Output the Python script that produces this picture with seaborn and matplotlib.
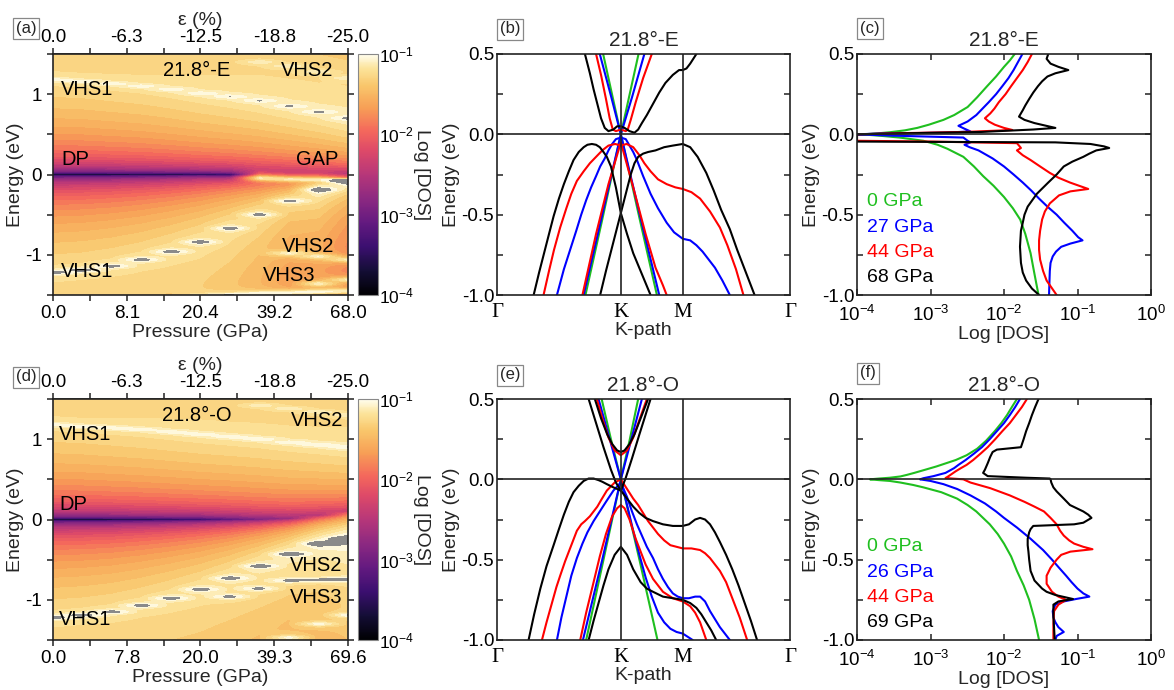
import numpy as np
import matplotlib
matplotlib.use("Agg")
import matplotlib.pyplot as plt
import seaborn as sns
from matplotlib.colors import Normalize, LinearSegmentedColormap
from matplotlib.cm import ScalarMappable
from matplotlib.ticker import MultipleLocator, FixedLocator, NullLocator

# ---------------------------------------------------------------- data
# compression columns of the DOS maps (|epsilon| in %)
compression = [0.0, 2.5, 5.0, 7.5, 10.0, 12.5, 15.0, 17.5, 20.0, 22.5, 25.0]
strain_ticks = [0.0, 6.25, 12.5, 18.75, 25.0]
strain_labels = ["0.0", "-6.3", "-12.5", "-18.8", "-25.0"]
pressure_labels_E = ["0.0", "8.1", "20.4", "39.2", "68.0"]
pressure_labels_O = ["0.0", "7.8", "20.0", "39.3", "69.6"]

nan = np.nan
# 21.8-E stacking: van Hove energies (eV), amplitudes and gap edges per column
vhs1_lo_E = [-1.22, -1.19, -1.14, -1.06, -0.96, -0.84, -0.67, -0.50, -0.33, -0.19, -0.08]
vhs1_hi_E = [1.18, 1.16, 1.13, 1.10, 1.06, 1.01, 0.97, 0.92, 0.85, 0.78, 0.70]
vhs2_lo_E = [nan, nan, nan, nan, nan, nan, nan, nan, -0.98, -1.02, -1.06]
vhs3_lo_E = [nan, nan, nan, nan, nan, nan, nan, nan, nan, -1.36, -1.31]
vhs4_lo_E = [nan, nan, nan, nan, nan, -1.52, -1.50, -1.48, -1.47, -1.46, -1.45]
vhs2_hi_E = [nan, nan, nan, nan, nan, nan, nan, 1.40, 1.35, 1.28, 1.20]
edge_pk_E = [nan, nan, nan, nan, nan, nan, nan, -0.045, -0.06, -0.065, nan]
amp_lo_E = [0.058, 0.058, 0.059, 0.060, 0.062, 0.064, 0.064, 0.062, 0.058, 0.090, 0.160]
amp_hi_E = [0.058, 0.058, 0.059, 0.060, 0.062, 0.064, 0.066, 0.068, 0.070, 0.072, 0.075]
gap_lo_E = [0, 0, 0, 0, 0, 0, -0.01, -0.03, -0.045, -0.05, -0.05]
gap_hi_E = [0, 0, 0, 0, 0, 0, 0.003, 0.005, 0.005, 0.005, 0.005]
floor_E = [1.1e-4, 1.1e-4, 1.1e-4, 1.1e-4, 1.1e-4, 1.2e-4, 3e-4, 3e-4, 3e-4, 3e-4, 3e-4]

# 21.8-O stacking
vhs1_lo_O = [-1.22, -1.19, -1.15, -1.07, -0.98, -0.87, -0.73, -0.58, -0.43, -0.30, -0.24]
vhs1_hi_O = [1.18, 1.16, 1.14, 1.12, 1.09, 1.06, 1.03, 1.00, 0.96, 0.93, 0.90]
vhs2_lo_O = [nan, nan, nan, nan, nan, nan, -0.96, -0.86, -0.76, -0.75, -0.745]
vhs3_lo_O = [nan, nan, nan, nan, nan, nan, nan, nan, -1.47, -1.30, -1.19]
vhs2_hi_O = [nan, nan, nan, nan, nan, nan, nan, 1.42, 1.38, 1.34, 1.30]
amp_lo_O = [0.058, 0.058, 0.059, 0.060, 0.062, 0.064, 0.066, 0.070, 0.075, 0.085, 0.100]
amp_hi_O = [0.058, 0.058, 0.059, 0.060, 0.061, 0.062, 0.062, 0.062, 0.062, 0.062, 0.062]
dp_O = [0, 0, 0, 0, 0, 0, 0, 0, 0.01, 0.05, 0.10]
floor_O = [1.1e-4, 1.1e-4, 1.2e-4, 1.4e-4, 1.8e-4, 2.5e-4, 5e-4, 9e-4, 1.5e-3, 2.5e-3, 4e-3]

# band structures along Gamma-K-M-Gamma (k in units of |GK|)
K_PATH = [0.0, 1.0, 1.5, 2.366]
BANDS_E_0 = [
    ([0.70, 0.85, 1.0, 1.15, 1.30], [-1.05, -0.53, 0.0, -0.52, -1.03]),
    ([0.84, 0.92, 1.0, 1.08, 1.16], [0.56, 0.28, 0.0, 0.28, 0.56]),
]
BANDS_E_27 = [
    ([0.83, 0.92, 1.0, 1.09, 1.19], [0.50, 0.24, 0.0, 0.23, 0.50]),
    ([0.70, 0.85, 1.0, 1.15, 1.31], [-1.0, -0.5, 0.0, -0.49, -1.0]),
    ([0.484, 0.54, 0.59, 0.64, 0.68, 0.72, 0.76, 0.80, 0.833, 0.87, 0.90, 0.93, 0.96, 1.0, 1.04,
      1.07, 1.10, 1.13, 1.18, 1.24, 1.30, 1.37, 1.43, 1.5, 1.56, 1.61, 1.66, 1.71, 1.76, 1.82, 1.88],
     [-1.0, -0.84, -0.72, -0.60, -0.50, -0.41, -0.33, -0.26, -0.20, -0.15, -0.10, -0.06, -0.03, -0.02,
      -0.03, -0.07, -0.11, -0.16, -0.26, -0.37, -0.46, -0.55, -0.61, -0.65, -0.66, -0.69, -0.73, -0.78,
      -0.83, -0.91, -1.0]),
]
BANDS_E_44 = [
    ([0.80, 0.84, 0.88, 0.91, 0.935, 0.96, 1.0, 1.04, 1.056, 1.08, 1.12, 1.18, 1.25],
     [0.50, 0.37, 0.22, 0.10, 0.03, 0.02, 0.03, 0.02, 0.03, 0.09, 0.20, 0.35, 0.50]),
    ([0.376, 0.42, 0.46, 0.51, 0.56, 0.60, 0.645, 0.70, 0.75, 0.80, 0.85, 0.90, 0.954, 1.0, 1.046,
      1.10, 1.15, 1.19, 1.24, 1.30, 1.37, 1.44, 1.5, 1.57, 1.64, 1.72, 1.80, 1.86, 1.93, 1.99],
     [-1.0, -0.85, -0.72, -0.58, -0.46, -0.37, -0.29, -0.23, -0.18, -0.14, -0.10, -0.07, -0.06, -0.07,
      -0.06, -0.08, -0.13, -0.18, -0.23, -0.28, -0.31, -0.33, -0.34, -0.36, -0.40, -0.48, -0.58, -0.69,
      -0.84, -1.0]),
    ([0.69, 0.80, 0.90, 1.0, 1.10, 1.20, 1.28, 1.34, 1.37],
     [-1.0, -0.62, -0.31, -0.05, -0.33, -0.62, -0.83, -0.94, -1.0]),
]
BANDS_E_68 = [
    ([0.71, 0.75, 0.78, 0.81, 0.84, 0.87, 0.90, 0.94, 0.97, 1.0, 1.03, 1.07, 1.11, 1.14, 1.17, 1.21,
      1.26, 1.31, 1.36, 1.42, 1.47, 1.5, 1.53, 1.56, 1.61],
     [0.50, 0.38, 0.28, 0.19, 0.10, 0.04, 0.02, 0.03, 0.05, 0.05, 0.04, 0.02, 0.01, 0.03, 0.07, 0.12,
      0.19, 0.26, 0.32, 0.37, 0.40, 0.40, 0.41, 0.44, 0.50]),
    ([0.296, 0.34, 0.38, 0.42, 0.457, 0.50, 0.54, 0.58, 0.618, 0.66, 0.70, 0.73, 0.766, 0.80, 0.83,
      0.86, 0.887, 0.92, 0.96, 1.0, 1.05, 1.10, 1.17, 1.24],
     [-1.0, -0.86, -0.74, -0.62, -0.51, -0.40, -0.31, -0.23, -0.16, -0.11, -0.08, -0.065, -0.06,
      -0.065, -0.08, -0.11, -0.14, -0.20, -0.33, -0.49, -0.62, -0.74, -0.87, -1.0]),
    ([0.833, 0.88, 0.92, 0.96, 1.0, 1.04, 1.08, 1.11, 1.14, 1.18, 1.22, 1.28, 1.35, 1.42, 1.5, 1.56,
      1.62, 1.69, 1.75, 1.81, 1.88, 1.94, 2.0, 2.08],
     [-1.0, -0.85, -0.73, -0.61, -0.49, -0.37, -0.25, -0.18, -0.14, -0.12, -0.11, -0.10, -0.08, -0.07,
      -0.06, -0.08, -0.14, -0.24, -0.35, -0.47, -0.59, -0.72, -0.84, -1.0]),
]
BANDS_O_0 = [
    ([0.72, 0.86, 1.0, 1.15, 1.296], [-1.0, -0.5, 0.0, -0.5, -1.0]),
    ([0.845, 0.92, 1.0, 1.07, 1.14], [0.5, 0.25, 0.0, 0.24, 0.5]),
]
BANDS_O_26 = [
    ([0.82, 0.91, 1.0, 1.085, 1.17], [0.5, 0.25, 0.0, 0.25, 0.5]),
    ([0.694, 0.85, 1.0], [-1.0, -0.5, 0.0]),
    ([1.0, 1.05, 1.10, 1.15, 1.2, 1.25, 1.30, 1.35, 1.40, 1.45, 1.5, 1.54, 1.58],
     [0.0, -0.16, -0.32, -0.47, -0.61, -0.73, -0.83, -0.89, -0.93, -0.95, -0.96, -0.98, -1.0]),
    ([0.484, 0.52, 0.56, 0.60, 0.645, 0.69, 0.73, 0.78, 0.83, 0.88, 0.94, 1.0, 1.05, 1.09, 1.13, 1.17,
      1.21, 1.26, 1.30, 1.34, 1.38, 1.42, 1.46, 1.5, 1.55, 1.60, 1.64, 1.68, 1.72, 1.76, 1.80, 1.84, 1.88],
     [-1.0, -0.86, -0.73, -0.60, -0.49, -0.40, -0.33, -0.26, -0.20, -0.14, -0.07, -0.02, -0.11, -0.20,
      -0.28, -0.35, -0.42, -0.49, -0.56, -0.62, -0.67, -0.71, -0.73, -0.74, -0.74, -0.73, -0.73, -0.76,
      -0.82, -0.87, -0.92, -0.96, -1.0]),
]
BANDS_O_44 = [
    ([0.806, 0.85, 0.90, 0.95, 1.0, 1.05, 1.10, 1.15, 1.21], [0.5, 0.38, 0.26, 0.18, 0.15, 0.18, 0.26, 0.37, 0.5]),
    ([0.363, 0.40, 0.44, 0.48, 0.51, 0.55, 0.60, 0.645, 0.68, 0.71, 0.75, 0.78, 0.81, 0.84, 0.887, 0.95,
      1.0, 1.05, 1.10, 1.14, 1.18, 1.22, 1.26, 1.30, 1.35, 1.40, 1.45, 1.5, 1.57, 1.64, 1.68, 1.72, 1.76,
      1.80, 1.85, 1.9, 1.96, 2.02],
     [-1.0, -0.89, -0.78, -0.67, -0.60, -0.51, -0.41, -0.32, -0.28, -0.26, -0.23, -0.20, -0.17, -0.13,
      -0.07, -0.02, 0.0, -0.06, -0.12, -0.16, -0.21, -0.26, -0.30, -0.34, -0.38, -0.41, -0.42, -0.43,
      -0.43, -0.44, -0.46, -0.49, -0.53, -0.57, -0.64, -0.74, -0.86, -1.0]),
    ([0.672, 0.72, 0.78, 0.83, 0.88, 0.93, 0.97, 1.0, 1.03, 1.07, 1.12, 1.16, 1.20, 1.26, 1.34, 1.42,
      1.5, 1.56, 1.60, 1.64, 1.69],
     [-1.0, -0.83, -0.64, -0.48, -0.34, -0.23, -0.18, -0.16, -0.18, -0.25, -0.37, -0.45, -0.53, -0.62,
      -0.70, -0.74, -0.76, -0.79, -0.83, -0.89, -1.0]),
]
BANDS_O_69 = [
    ([0.79, 0.84, 0.89, 0.93, 0.97, 1.0, 1.03, 1.07, 1.11, 1.16, 1.22],
     [0.5, 0.38, 0.28, 0.22, 0.18, 0.17, 0.18, 0.22, 0.28, 0.38, 0.5]),
    ([0.74, 0.80, 0.86, 0.92, 0.96, 1.0, 1.04, 1.09, 1.15, 1.24],
     [0.5, 0.35, 0.20, 0.06, -0.02, -0.07, 0.01, 0.13, 0.28, 0.5]),
    ([0.255, 0.30, 0.35, 0.40, 0.457, 0.50, 0.54, 0.58, 0.618, 0.66, 0.70, 0.74, 0.78, 0.82, 0.85,
      0.887, 0.94, 1.0, 1.05, 1.1, 1.15, 1.2, 1.26, 1.34, 1.42, 1.5, 1.55, 1.60, 1.64, 1.68, 1.72, 1.76,
      1.80, 1.85, 1.90, 1.95, 2.0, 2.05, 2.1],
     [-1.0, -0.84, -0.68, -0.54, -0.41, -0.31, -0.22, -0.14, -0.08, -0.04, -0.01, 0.005, 0.005, -0.005,
      -0.015, -0.03, -0.05, -0.07, -0.12, -0.17, -0.21, -0.24, -0.26, -0.28, -0.29, -0.29, -0.28, -0.25,
      -0.24, -0.25, -0.28, -0.33, -0.39, -0.47, -0.56, -0.66, -0.77, -0.88, -1.0]),
    ([0.74, 0.78, 0.82, 0.86, 0.90, 0.95, 1.0, 1.05, 1.10, 1.16, 1.21, 1.26, 1.34, 1.42, 1.5, 1.56,
      1.61, 1.65, 1.69, 1.73, 1.77],
     [-1.0, -0.88, -0.77, -0.66, -0.56, -0.47, -0.42, -0.47, -0.56, -0.64, -0.68, -0.70, -0.73, -0.74,
      -0.75, -0.77, -0.80, -0.84, -0.89, -0.94, -1.0]),
]

# density of states curves (energy in eV, DOS in states/eV/atom)
DOS_E_0_E = [0.50, 0.46, 0.42, 0.36, 0.30, 0.23, 0.17, 0.12, 0.09, 0.06, 0.04, 0.025, 0.013, 0.006,
             0.002, 0.0, -0.004, -0.01, -0.02, -0.04, -0.065, -0.09, -0.14, -0.20, -0.26, -0.32,
             -0.39, -0.46, -0.53, -0.62, -0.74, -0.87, -1.0]
DOS_E_0 = [1.4e-2, 1.2e-2, 1.0e-2, 7.8e-3, 5.9e-3, 4.3e-3, 3.2e-3, 2.1e-3, 1.5e-3, 9.5e-4, 6.6e-4,
           4.5e-4, 2.8e-4, 1.9e-4, 1.4e-4, 1.0e-4, 1.5e-4, 2.2e-4, 3.8e-4, 8.0e-4, 1.25e-3, 1.7e-3,
           2.8e-3, 3.9e-3, 5.2e-3, 7.2e-3, 1.0e-2, 1.32e-2, 1.66e-2, 1.95e-2, 2.3e-2, 2.6e-2,
           2.95e-2]
DOS_E_27_E = [0.50, 0.45, 0.40, 0.35, 0.30, 0.25, 0.20, 0.16, 0.12, 0.08, 0.053, 0.035, 0.018, 0.01,
              0.005, 0.0, -0.008, -0.02, -0.04, -0.05, -0.065, -0.08, -0.10, -0.15, -0.20, -0.25,
              -0.30, -0.35, -0.40, -0.45, -0.50, -0.55, -0.60, -0.64, -0.66, -0.68, -0.70, -0.73,
              -0.76, -0.80, -0.85, -0.92, -1.0]
DOS_E_27 = [1.78e-2, 1.55e-2, 1.35e-2, 1.15e-2, 9.5e-3, 7.8e-3, 6.2e-3, 5.1e-3, 4.2e-3, 3.2e-3,
            2.4e-3, 2.9e-3, 3.5e-3, 1.5e-3, 2e-4, 1e-4, 3e-4, 2.8e-3, 3.2e-3, 3.5e-3, 2.9e-3,
            3.4e-3, 4.5e-3, 7.0e-3, 1.0e-2, 1.35e-2, 1.8e-2, 2.35e-2, 3.0e-2, 3.9e-2, 5.2e-2,
            6.6e-2, 8.5e-2, 1.02e-1, 1.17e-1, 8.0e-2, 6.0e-2, 5.1e-2, 4.6e-2, 4.3e-2, 4.2e-2,
            4.15e-2, 4.1e-2]
DOS_E_44_E = [0.50, 0.45, 0.40, 0.35, 0.30, 0.25, 0.20, 0.16, 0.13, 0.10, 0.08, 0.06, 0.04, 0.027,
              0.015, 0.006, 0.0, -0.04, -0.045, -0.055, -0.07, -0.085, -0.10, -0.13, -0.16, -0.20,
              -0.24, -0.27, -0.30, -0.32, -0.34, -0.355, -0.38, -0.43, -0.48, -0.53, -0.60, -0.66,
              -0.72, -0.78, -0.85, -0.91, -1.0]
DOS_E_44 = [2.4e-2, 2.1e-2, 1.8e-2, 1.5e-2, 1.25e-2, 1.05e-2, 8.5e-3, 7.4e-3, 6.5e-3, 5.5e-3,
            6.2e-3, 7.5e-3, 1.0e-2, 1.3e-2, 3e-3, 3e-4, 1e-4, 1e-4, 1e-3, 1.5e-2, 1.6e-2, 1.7e-2,
            1.5e-2, 1.8e-2, 2.3e-2, 3.1e-2, 4.2e-2, 5.5e-2, 7.9e-2, 1.05e-1, 1.4e-1, 8.0e-2,
            5.6e-2, 4.2e-2, 3.6e-2, 3.3e-2, 3.1e-2, 3.0e-2, 3.0e-2, 3.1e-2, 3.4e-2, 3.8e-2,
            5.2e-2]
DOS_E_68_E = [0.50, 0.47, 0.44, 0.42, 0.40, 0.38, 0.36, 0.33, 0.30, 0.26, 0.22, 0.18, 0.15, 0.11,
              0.09, 0.07, 0.055, 0.04, 0.03, 0.015, 0.005, 0.0, -0.045, -0.05, -0.06, -0.075, -0.085,
              -0.10, -0.12, -0.14, -0.17, -0.20, -0.25, -0.30, -0.37, -0.45, -0.50, -0.55, -0.60,
              -0.70, -0.80, -0.86, -0.91, -0.96, -1.0]
DOS_E_68 = [4.0e-2, 3.8e-2, 4.3e-2, 5.5e-2, 7.5e-2, 5.0e-2, 3.9e-2, 3.3e-2, 2.9e-2, 2.5e-2, 2.2e-2,
            1.95e-2, 1.8e-2, 1.6e-2, 1.9e-2, 2.6e-2, 3.6e-2, 5.0e-2, 2.5e-2, 5e-3, 3e-4, 1e-4, 1e-4,
            5e-2, 1.5e-1, 2.3e-1, 2.7e-1, 1.8e-1, 1.45e-1, 1.2e-1, 8.5e-2, 6.5e-2, 5.2e-2, 4.0e-2,
            2.8e-2, 2.1e-2, 1.9e-2, 1.8e-2, 1.7e-2, 1.65e-2, 1.7e-2, 1.8e-2, 2.0e-2, 2.4e-2,
            3.0e-2]

DOS_O_0_E = [0.5, 0.45, 0.4, 0.35, 0.3, 0.24, 0.19, 0.15, 0.12, 0.08, 0.06, 0.04, 0.028, 0.018,
             0.01, 0.005, 0.0, -0.005, -0.01, -0.02, -0.035, -0.05, -0.08, -0.12, -0.16, -0.2,
             -0.28, -0.34, -0.4, -0.48, -0.57, -0.66, -0.75, -0.87, -1.0]
DOS_O_0 = [1.5e-2, 1.28e-2, 1.1e-2, 9.2e-3, 7.5e-3, 5.7e-3, 4.3e-3, 3.1e-3, 2.2e-3, 1.2e-3, 8.5e-4,
           6e-4, 4.8e-4, 3.9e-4, 2.8e-4, 2e-4, 1.5e-4, 2e-4, 2.8e-4, 3.9e-4, 5.8e-4, 8e-4, 1.4e-3,
           2.3e-3, 3.2e-3, 4.2e-3, 6.4e-3, 8.2e-3, 1.0e-2, 1.25e-2, 1.5e-2, 1.85e-2, 2.2e-2,
           2.6e-2, 3.0e-2]
DOS_O_26_E = [0.5, 0.45, 0.4, 0.35, 0.3, 0.25, 0.2, 0.16, 0.12, 0.09, 0.07, 0.04, 0.02, 0.007, 0.0,
              -0.01, -0.03, -0.06, -0.10, -0.15, -0.20, -0.24, -0.30, -0.37, -0.44, -0.50, -0.55,
              -0.60, -0.64, -0.68, -0.71, -0.73, -0.745, -0.76, -0.78, -0.82, -0.86, -0.89, -0.92,
              -0.95, -0.975, -1.0]
DOS_O_26 = [1.65e-2, 1.42e-2, 1.2e-2, 1.0e-2, 8e-3, 6.4e-3, 5e-3, 3.9e-3, 3.0e-3, 2.4e-3, 2.1e-3,
            1.6e-3, 1.1e-3, 8e-4, 7.2e-4, 1e-3, 1.5e-3, 2.3e-3, 3.5e-3, 5.5e-3, 7.8e-3, 1.0e-2,
            1.5e-2, 2.3e-2, 3.4e-2, 4.5e-2, 5.6e-2, 7e-2, 8.3e-2, 1.0e-1, 1.2e-1, 1.45e-1, 9.5e-2,
            6.5e-2, 5e-2, 4.6e-2, 4.7e-2, 5e-2, 5.5e-2, 6.5e-2, 5.2e-2, 5.0e-2]
DOS_O_44_E = [0.5, 0.45, 0.4, 0.35, 0.3, 0.25, 0.2, 0.16, 0.12, 0.09, 0.07, 0.05, 0.03, 0.015,
              0.008, 0.0, -0.02, -0.055, -0.10, -0.14, -0.17, -0.20, -0.24, -0.28, -0.32, -0.35,
              -0.38, -0.40, -0.42, -0.435, -0.45, -0.47, -0.50, -0.55, -0.60, -0.65, -0.70, -0.73,
              -0.75, -0.78, -0.82, -0.90, -1.0]
DOS_O_44 = [2.05e-2, 1.75e-2, 1.45e-2, 1.2e-2, 9.5e-3, 7.6e-3, 6e-3, 4.8e-3, 3.8e-3, 3.1e-3, 2.6e-3,
            2.2e-3, 1.9e-3, 1.7e-3, 1.6e-3, 2.8e-3, 3.5e-3, 6.5e-3, 1.2e-2, 1.9e-2, 2.6e-2, 3.5e-2,
            4.3e-2, 5.2e-2, 5.8e-2, 6.5e-2, 7.7e-2, 9e-2, 1.2e-1, 1.6e-1, 8e-2, 6e-2, 5.2e-2, 4.3e-2,
            3.8e-2, 3.8e-2, 4.5e-2, 5.5e-2, 7e-2, 5.5e-2, 4.8e-2, 4.7e-2, 4.7e-2]
DOS_O_69_E = [0.5, 0.45, 0.4, 0.35, 0.3, 0.25, 0.2, 0.185, 0.17, 0.14, 0.1, 0.06, 0.04, 0.02, 0.01,
              0.005, 0.0, -0.02, -0.05, -0.075, -0.12, -0.16, -0.20, -0.22, -0.24, -0.27, -0.28,
              -0.29, -0.31, -0.33, -0.37, -0.41, -0.45, -0.50, -0.57, -0.63, -0.68, -0.70, -0.72,
              -0.745, -0.76, -0.78, -0.85, -1.0]
DOS_O_69 = [2.95e-2, 2.65e-2, 2.4e-2, 2.2e-2, 2.0e-2, 1.85e-2, 1.7e-2, 8e-3, 7e-3, 6.5e-3, 6e-3,
            5.5e-3, 5.2e-3, 6e-3, 2e-2, 4.2e-2, 4.3e-2, 4.4e-2, 4.7e-2, 5.2e-2, 6.5e-2, 7.9e-2,
            1.2e-1, 1.4e-1, 1.55e-1, 1.2e-1, 9e-2, 2.5e-2, 2.3e-2, 2.2e-2, 2.1e-2, 2.1e-2, 2.15e-2,
            2.2e-2, 2.3e-2, 2.6e-2, 3.3e-2, 3.8e-2, 5e-2, 8.7e-2, 5.5e-2, 4.7e-2, 4.7e-2, 4.9e-2]

PRESSURES_E = ["0 GPa", "27 GPa", "44 GPa", "68 GPa"]
PRESSURES_O = ["0 GPa", "26 GPa", "44 GPa", "69 GPa"]
COLORS = ["#1fbf1f", "#0000ff", "#ff0000", "#000000"]

# ---------------------------------------------------------------- style
sns.set_theme(style="ticks")
plt.rcParams.update({
    "font.family": ["Liberation Sans", "DejaVu Sans"],
    "mathtext.fontset": "custom",
    "mathtext.rm": "Liberation Sans",
    "mathtext.it": "Liberation Sans:italic",
    "mathtext.bf": "Liberation Sans:bold",
    "axes.unicode_minus": False,
    "axes.linewidth": 1.2,
    "axes.edgecolor": "#222222",
    "xtick.color": "#222222",
    "ytick.color": "#222222",
    "xtick.labelcolor": "black",
    "ytick.labelcolor": "black",
    "xtick.labelsize": 13.5,
    "ytick.labelsize": 13.5,
    "axes.labelsize": 14,
})

E_GRID = np.linspace(-1.5, 1.5, 1201)
PEAK_W = 0.02


def dos_column(e_lo, e_hi, a_lo, a_hi, g_lo, g_hi, floor, peaks):
    """Model DOS profile of one compression column."""
    E = E_GRID
    d = np.full(E.shape, floor)
    lo = E < g_lo
    x = (g_lo - E[lo]) / (g_lo - e_lo)
    d[lo] += a_lo * np.where(x < 1, x ** 1.2, x ** -0.7)
    hi = E > g_hi
    x = (E[hi] - g_hi) / (e_hi - g_hi)
    d[hi] += a_hi * np.where(x < 1, x ** 1.2, x ** -0.7)
    for ep, hp in peaks:
        if np.isfinite(ep):
            d += hp * PEAK_W ** 2 / ((E - ep) ** 2 + PEAK_W ** 2)
    return d


def field_E():
    cols = []
    for j in range(len(compression)):
        pk = [(vhs1_lo_E[j], 0.06), (vhs1_hi_E[j], 0.035), (vhs2_lo_E[j], 0.06),
              (vhs3_lo_E[j], 0.06), (vhs4_lo_E[j], 0.07), (vhs2_hi_E[j], 0.03),
              (edge_pk_E[j], 0.07)]
        cols.append(dos_column(vhs1_lo_E[j], vhs1_hi_E[j], amp_lo_E[j], amp_hi_E[j],
                               gap_lo_E[j], gap_hi_E[j], floor_E[j], pk))
    return np.log10(np.column_stack(cols))


def field_O():
    cols = []
    for j in range(len(compression)):
        pk = [(vhs1_lo_O[j], 0.06), (vhs1_hi_O[j], 0.035), (vhs2_lo_O[j], 0.06),
              (vhs3_lo_O[j], 0.06), (vhs2_hi_O[j], 0.03)]
        cols.append(dos_column(vhs1_lo_O[j], vhs1_hi_O[j], amp_lo_O[j], amp_hi_O[j],
                               dp_O[j], dp_O[j], floor_O[j], pk))
    return np.log10(np.column_stack(cols))


# magma below 10^-2, warmer yellow towards 10^-1
_mg = plt.get_cmap("magma")
_stops = [(p, _mg(p)[:3]) for p in (0.0, 0.1, 0.2, 0.3, 0.4, 0.5, 0.6, 0.68)]
_stops += [(0.78, (0.969, 0.627, 0.337)), (0.87, (0.976, 0.776, 0.420)),
           (0.94, (0.988, 0.890, 0.600)), (1.0, (1.0, 0.992, 0.930))]
cmap = LinearSegmentedColormap.from_list("dos", _stops, N=256)
cmap.set_over("#8a8a8a")
cmap.set_under("#8a8a8a")
LEVELS = np.linspace(-4, -1, 37)

fig = plt.figure(figsize=(11.74, 6.90), dpi=100)
W_FIG, H_FIG = 1174, 690


def px_axes(x0, y0, x1, y1):
    return fig.add_axes([x0 / W_FIG, 1 - y1 / H_FIG, (x1 - x0) / W_FIG, (y1 - y0) / H_FIG])


def panel_tag(x, y, s):
    fig.text(x / W_FIG, 1 - y / H_FIG, s, ha="center", va="center", fontsize=12,
             bbox=dict(boxstyle="square,pad=0.18", fc="white", ec="#888888", lw=0.9))


def draw_map(ax, cax, Z, p_labels, texts):
    ax.contourf(compression, E_GRID, Z, levels=LEVELS, cmap=cmap, extend="both")
    ax.set_xlim(0, 25)
    ax.set_ylim(-1.5, 1.5)
    ax.set_xticks(strain_ticks)
    ax.set_xticklabels(p_labels)
    ax.xaxis.set_minor_locator(FixedLocator([3.125, 9.375, 15.625, 21.875]))
    ax.set_yticks([-1, 0, 1])
    ax.set_yticklabels(["-1", "0", "1"])
    ax.yaxis.set_minor_locator(MultipleLocator(0.5))
    ax.tick_params(which="both", direction="out", top=False, right=True, length=4.5, width=1.1)
    ax.tick_params(axis="x", pad=3)
    ax.set_xlabel("Pressure (GPa)", labelpad=1)
    ax.set_ylabel("Energy (eV)", labelpad=1)
    top = ax.secondary_xaxis("top")
    top.set_xticks(strain_ticks)
    top.set_xticklabels(strain_labels)
    top.xaxis.set_minor_locator(FixedLocator([3.125, 9.375, 15.625, 21.875]))
    top.tick_params(which="both", direction="out", length=4.5, width=1.1, pad=1)
    top.set_xlabel("ε (%)", labelpad=3)
    for (x, y, s, ha) in texts:
        ax.text(x, y, s, ha=ha, va="center", fontsize=14.5, color="black")
    sm = ScalarMappable(norm=Normalize(-4, -1), cmap=cmap)
    cb = fig.colorbar(sm, cax=cax, ticks=[-4, -3, -2, -1])
    cb.ax.set_yticklabels(["10$^{-4}$", "10$^{-3}$", "10$^{-2}$", "10$^{-1}$"])
    cb.ax.tick_params(length=0, pad=1, labelsize=12.5)
    cb.outline.set_linewidth(0.8)
    cb.outline.set_edgecolor("#888888")
    cb.ax.set_ylabel("Log [DOS]", rotation=270, fontsize=14, labelpad=11)


def draw_bands(ax, band_sets, title):
    for bands, col in zip(band_sets, COLORS):
        for k, e in bands:
            sns.lineplot(x=k, y=e, sort=False, estimator=None, color=col, lw=1.5, ax=ax,
                         legend=False)
    for kx in K_PATH[1:3]:
        ax.axvline(kx, color="#222222", lw=1.2)
    ax.axhline(0, color="#222222", lw=1.2)
    ax.set_xlim(K_PATH[0], K_PATH[-1])
    ax.set_ylim(-1.0, 0.5)
    ax.set_xticks(K_PATH)
    ax.set_xticklabels(["Γ", "K", "M", "Γ"], fontfamily="Liberation Serif", fontsize=15)
    ax.set_yticks([-1.0, -0.5, 0.0, 0.5])
    ax.set_yticklabels(["-1.0", "-0.5", "0.0", "0.5"])
    ax.yaxis.set_minor_locator(MultipleLocator(0.25))
    ax.tick_params(axis="y", which="both", direction="in", left=True, right=True, length=4.5,
                   width=1.1, pad=2)
    ax.tick_params(axis="x", length=0, pad=6)
    ax.set_xlabel("K-path", labelpad=0)
    ax.set_ylabel("Energy (eV)", labelpad=1)
    ax.set_title(title, fontsize=15, pad=6)


def draw_dos(ax, curves, labels, title):
    for (e, d), col in zip(curves, COLORS):
        sns.lineplot(x=d, y=e, sort=False, estimator=None, color=col, lw=1.5, ax=ax,
                     legend=False)
    ax.axhline(0, color="#222222", lw=1.2)
    ax.set_xscale("log")
    ax.set_xlim(1e-4, 1.0)
    ax.set_ylim(-1.0, 0.5)
    ax.set_xticks([1e-4, 1e-3, 1e-2, 1e-1, 1e0])
    ax.set_xticklabels(["10$^{-4}$", "10$^{-3}$", "10$^{-2}$", "10$^{-1}$", "10$^{0}$"])
    ax.xaxis.set_minor_locator(NullLocator())
    ax.set_yticks([-1.0, -0.5, 0.0, 0.5])
    ax.set_yticklabels(["-1.0", "-0.5", "0.0", "0.5"])
    ax.yaxis.set_minor_locator(MultipleLocator(0.25))
    ax.tick_params(which="both", direction="in", top=True, right=True, length=4.5, width=1.1)
    ax.tick_params(axis="x", pad=7)
    ax.tick_params(axis="y", pad=2)
    ax.set_xlabel("Log [DOS]", labelpad=1)
    ax.set_ylabel("Energy (eV)", labelpad=1)
    ax.set_title(title, fontsize=15, pad=6)
    for i, (lab, col) in enumerate(zip(labels, COLORS)):
        ax.text(0.035, 0.386 - i * 0.104, lab, color=col, fontsize=14, transform=ax.transAxes,
                va="center", ha="left")


# ---------------------------------------------------------------- figure
ax_a = px_axes(53, 54, 348, 295)
cax_a = px_axes(358, 54, 378, 295)
draw_map(ax_a, cax_a, field_E(), pressure_labels_E, [
    (12.2, 1.29, "21.8°-E", "center"), (21.5, 1.29, "VHS2", "center"),
    (0.7, 1.06, "VHS1", "left"), (0.7, 0.19, "DP", "left"), (24.2, 0.19, "GAP", "right"),
    (19.4, -0.90, "VHS2", "left"), (0.7, -1.21, "VHS1", "left"), (17.8, -1.26, "VHS3", "left"),
])

ax_d = px_axes(53, 399, 348, 640)
cax_d = px_axes(358, 399, 378, 640)
draw_map(ax_d, cax_d, field_O(), pressure_labels_O, [
    (12.2, 1.29, "21.8°-O", "center"), (22.4, 1.23, "VHS2", "center"),
    (0.5, 1.06, "VHS1", "left"), (0.5, 0.19, "DP", "left"),
    (20.1, -0.57, "VHS2", "left"), (20.1, -0.97, "VHS3", "left"), (0.5, -1.24, "VHS1", "left"),
])

ax_b = px_axes(497, 54, 790, 295)
draw_bands(ax_b, [BANDS_E_0, BANDS_E_27, BANDS_E_44, BANDS_E_68], "21.8°-E")
ax_e = px_axes(497, 399, 790, 640)
draw_bands(ax_e, [BANDS_O_0, BANDS_O_26, BANDS_O_44, BANDS_O_69], "21.8°-O")

ax_c = px_axes(857, 54, 1151, 295)
draw_dos(ax_c, [(DOS_E_0_E, DOS_E_0), (DOS_E_27_E, DOS_E_27), (DOS_E_44_E, DOS_E_44),
                (DOS_E_68_E, DOS_E_68)], PRESSURES_E, "21.8°-E")
ax_f = px_axes(857, 399, 1151, 640)
draw_dos(ax_f, [(DOS_O_0_E, DOS_O_0), (DOS_O_26_E, DOS_O_26), (DOS_O_44_E, DOS_O_44),
                (DOS_O_69_E, DOS_O_69)], PRESSURES_O, "21.8°-O")

panel_tag(26, 28, "(a)")
panel_tag(510, 29, "(b)")
panel_tag(870, 28, "(c)")
panel_tag(26, 377, "(d)")
panel_tag(510, 375, "(e)")
panel_tag(868, 373, "(f)")

fig.savefig("out.png", dpi=100)
